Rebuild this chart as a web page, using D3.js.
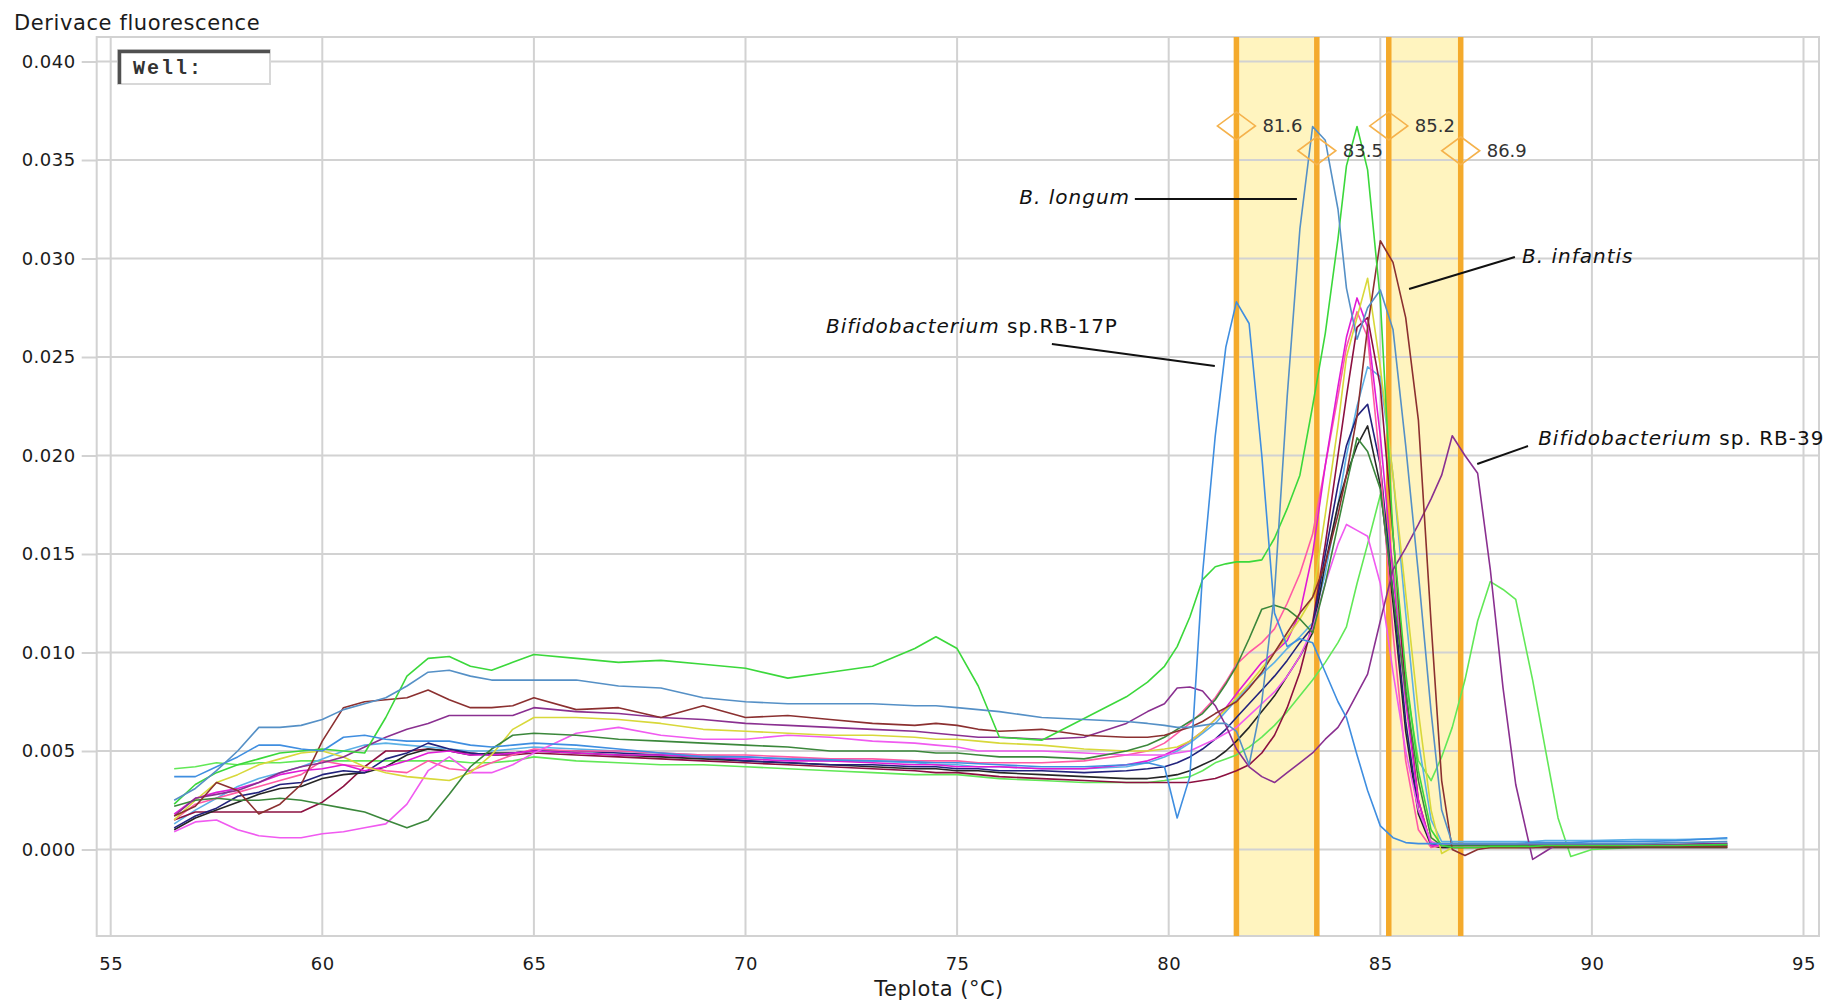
<!DOCTYPE html>
<html lang="cs">
<head>
<meta charset="UTF-8">
<title>Derivace fluorescence</title>
<script src="https://d3js.org/d3.v7.min.js"></script>
<style>
  html, body { margin: 0; padding: 0; background: #fff; }
  svg { display: block; }
  text { font-family: "DejaVu Sans", Verdana, sans-serif; fill: #1b1b1b; }
  .tick text { font-size: 18px; letter-spacing: 0.5px; }
  .tick line { stroke: #d2d2d2; stroke-width: 2; }
  .grid line { stroke: #d2d2d2; stroke-width: 2; }
  .curve { fill: none; stroke-width: 1.6; stroke-linejoin: round; }
  .note { font-size: 20px; letter-spacing: 1px; fill: #111; }
  .peak-label { font-size: 18px; fill: #333; }
</style>
</head>
<body>
<script>
// temperature of each reading (°C)
const temps = [
  56.5, 57, 57.5, 58, 58.5, 59, 59.5, 60, 60.5, 61, 61.5, 62, 62.5, 63, 63.5, 64, 64.5, 65,
  66, 67, 68, 69, 70, 71, 72, 73, 74, 74.5, 75, 75.5, 76, 77, 78, 79,
  79.5, 79.9, 80.2, 80.5, 80.8, 81.1, 81.35, 81.6, 81.9, 82.2, 82.5, 82.8, 83.1, 83.4, 83.7, 84.0,
  84.2, 84.45, 84.7, 85.0, 85.3, 85.6, 85.9, 86.2, 86.45, 86.7, 87.0, 87.3, 87.6, 87.9, 88.2, 88.6,
  88.9, 89.2, 89.5, 90.0,
  91, 92, 93.2
];

// derivative of fluorescence, in thousandths (x 0.001)
const green1 = [
  2.3, 3.3, 3.9, 4.3, 4.6, 4.9, 5.0, 5.1, 5.0, 4.9, 6.7, 8.8, 9.7, 9.8, 9.3, 9.1, 9.5, 9.9,
  9.7, 9.5, 9.6, 9.4, 9.2, 8.7, 9.0, 9.3, 10.2, 10.8, 10.2, 8.3, 5.7, 5.55, 6.65, 7.75,
  8.5, 9.3, 10.3, 11.8, 13.7, 14.35, 14.5, 14.6, 14.6, 14.7, 15.8, 17.3, 19.0, 22.5, 26.2, 31.0,
  34.7, 36.7, 34.5, 27.9, 16.0, 9.0, 4.0, 1.0, 0.2, 0.1, 0.1, 0.1, 0.15, 0.15, 0.15, 0.15,
  0.2, 0.2, 0.2, 0.2,
  0.2, 0.2, 0.25
];
const green2 = [
  4.1, 4.2, 4.4, 4.3, 4.4, 4.4, 4.5, 4.5, 4.5, 4.5, 4.5, 4.5, 4.5, 4.5, 4.4, 4.4, 4.5, 4.7,
  4.5, 4.4, 4.3, 4.3, 4.2, 4.1, 4.0, 3.9, 3.8, 3.8, 3.8, 3.7, 3.6, 3.5, 3.4, 3.4,
  3.4, 3.5, 3.6, 3.7, 4.0, 4.4, 4.6, 4.8, 5.2, 5.7, 6.3, 7.0, 7.8, 8.6, 9.5, 10.5,
  11.3, 13.5, 15.5, 18.0, 14.5, 8.5, 4.5, 3.5, 4.7, 6.2, 8.6, 11.6, 13.6, 13.2, 12.7, 8.6,
  5.1, 1.6, -0.35, 0.0,
  0.1, 0.15, 0.2
];
const darkGreen = [
  2.2, 2.5, 2.6, 2.5, 2.5, 2.6, 2.5, 2.3, 2.1, 1.9, 1.5, 1.1, 1.5, 2.8, 4.2, 5.1, 5.8, 5.9,
  5.8, 5.6, 5.5, 5.4, 5.3, 5.2, 5.0, 5.0, 5.0, 4.9, 4.9, 4.8, 4.7, 4.7, 4.6, 5.0,
  5.3, 5.7, 6.1, 6.5, 6.9, 7.6, 8.4, 9.3, 10.7, 12.2, 12.4, 12.2, 11.7, 11.0, 13.5, 16.5,
  18.5, 20.9, 20.2, 18.3, 13.0, 8.0, 3.5, 0.6, 0.2, 0.2, 0.2, 0.2, 0.2, 0.2, 0.2, 0.2,
  0.2, 0.2, 0.2, 0.2,
  0.2, 0.2, 0.2
];
const bLongum = [
  2.5, 3.1, 4.0, 5.0, 6.2, 6.2, 6.3, 6.6, 7.1, 7.4, 7.7, 8.3, 9.0, 9.1, 8.8, 8.6, 8.6, 8.6,
  8.6, 8.3, 8.2, 7.7, 7.5, 7.4, 7.4, 7.4, 7.3, 7.3, 7.2, 7.1, 7.0, 6.7, 6.6, 6.5,
  6.4, 6.3, 6.2, 6.2, 6.3, 6.4, 6.4, 6.0, 4.3, 7.5, 13.0, 23.0, 31.5, 36.7, 36.0, 32.5,
  28.5, 25.9, 27.5, 28.4, 26.4, 20.5, 14.0, 7.0, 2.0, 0.3, 0.3, 0.3, 0.3, 0.3, 0.3, 0.3,
  0.3, 0.3, 0.3, 0.3,
  0.3, 0.35, 0.4
];
const rb17p = [
  3.7, 3.7, 4.2, 4.7, 5.3, 5.3, 5.1, 5.0, 5.7, 5.8, 5.6, 5.5, 5.5, 5.5, 5.3, 5.2, 5.3, 5.4,
  5.3, 5.1, 4.9, 4.7, 4.7, 4.6, 4.55, 4.5, 4.45, 4.4, 4.4, 4.35, 4.3, 4.2, 4.2, 4.3,
  4.4, 4.2, 1.6, 3.7, 14.0, 21.0, 25.5, 27.8, 26.7, 20.0, 12.0, 10.3, 10.7, 10.5, 9.0, 7.5,
  6.7, 4.8, 3.0, 1.2, 0.6, 0.35, 0.3, 0.3, 0.3, 0.3, 0.3, 0.3, 0.3, 0.3, 0.3, 0.35,
  0.35, 0.35, 0.35, 0.4,
  0.4, 0.45, 0.6
];
const bInfantis = [
  1.7, 2.2, 3.4, 3.0, 1.8, 2.3, 3.3, 5.5, 7.2, 7.5, 7.6, 7.7, 8.1, 7.6, 7.2, 7.2, 7.3, 7.7,
  7.1, 7.2, 6.7, 7.3, 6.7, 6.8, 6.6, 6.4, 6.3, 6.4, 6.3, 6.1, 6.0, 6.1, 5.8, 5.7,
  5.7, 5.8, 6.0, 6.2, 6.5, 6.9, 7.2, 7.5, 8.2, 9.0, 10.0, 11.0, 12.0, 12.8, 14.5, 17.0,
  19.0, 22.0, 26.5, 30.9, 29.8, 27.0, 21.8, 11.5, 3.5, 0.0, -0.3, 0.0, 0.1, 0.1, 0.1, 0.1,
  0.15, 0.15, 0.15, 0.15,
  0.15, 0.15, 0.15
];
const rb39 = [
  1.7, 2.6, 2.8, 3.0, 3.4, 3.9, 4.2, 4.4, 4.7, 5.2, 5.7, 6.1, 6.4, 6.8, 6.8, 6.8, 6.8, 7.2,
  7.0, 6.9, 6.7, 6.6, 6.4, 6.3, 6.2, 6.1, 6.0, 5.9, 5.8, 5.7, 5.7, 5.6, 5.7, 6.4,
  7.0, 7.4, 8.2, 8.25, 8.05, 7.3, 6.3, 5.1, 4.2, 3.7, 3.4, 3.9, 4.4, 4.9, 5.6, 6.2,
  6.9, 7.9, 8.9, 11.6, 14.2, 15.3, 16.5, 17.8, 19.0, 21.0, 20.0, 19.1, 14.2, 8.2, 3.3, -0.5,
  -0.1, 0.3, 0.3, 0.25,
  0.25, 0.25, 0.3
];
const yellow = [
  1.5, 2.5, 3.4, 3.8, 4.3, 4.6, 4.9, 5.0, 4.7, 4.2, 3.9, 3.7, 3.6, 3.5, 3.9, 4.8, 6.1, 6.7,
  6.7, 6.6, 6.4, 6.1, 6.0, 5.9, 5.8, 5.8, 5.7, 5.6, 5.6, 5.5, 5.4, 5.3, 5.1, 5.0,
  5.0, 5.1, 5.2, 5.5, 6.0, 6.6, 7.1, 7.7, 8.4, 9.2, 10.0, 10.8, 11.7, 12.8, 17.0, 21.5,
  25.0, 27.0, 29.0, 24.5, 19.0, 13.0, 7.0, 2.0, -0.2, 0.1, 0.1, 0.1, 0.1, 0.1, 0.1, 0.15,
  0.15, 0.15, 0.15, 0.15,
  0.15, 0.15, 0.15
];
const magentaLow = [
  0.9, 1.4, 1.5, 1.0, 0.7, 0.6, 0.6, 0.8, 0.9, 1.1, 1.3, 2.3, 4.0, 4.7, 3.9, 3.9, 4.3, 4.9,
  5.9, 6.2, 5.8, 5.6, 5.6, 5.8, 5.7, 5.5, 5.4, 5.3, 5.2, 5.0, 5.0, 5.0, 4.9, 4.8,
  4.8, 4.8, 4.9, 5.0, 5.3, 5.6, 5.9, 6.2, 6.8, 7.4, 8.0, 8.8, 9.8, 11.2, 13.5, 15.5,
  16.5, 16.2, 15.9, 13.5, 9.0, 5.0, 2.0, 0.4, 0.2, 0.2, 0.2, 0.2, 0.2, 0.2, 0.2, 0.2,
  0.2, 0.2, 0.2, 0.2,
  0.2, 0.2, 0.2
];
const magenta = [
  1.8, 2.6, 2.9, 3.1, 3.4, 3.8, 4.0, 4.1, 4.3, 4.0, 4.2, 4.5, 4.9, 5.0, 4.8, 4.8, 4.9, 5.0,
  4.9, 4.8, 4.8, 4.7, 4.6, 4.5, 4.5, 4.4, 4.3, 4.3, 4.2, 4.2, 4.2, 4.1, 4.1, 4.3,
  4.5, 4.8, 5.1, 5.5, 6.0, 6.6, 7.2, 7.9, 8.7, 9.5, 10.0, 10.6, 12.0, 15.0, 19.5, 23.5,
  26.0, 28.0, 26.5, 21.0, 14.0, 7.5, 2.5, 0.2, 0.2, 0.2, 0.2, 0.2, 0.2, 0.2, 0.2, 0.2,
  0.2, 0.2, 0.2, 0.2,
  0.2, 0.2, 0.2
];
const pink = [
  1.5, 2.3, 2.6, 2.9, 3.2, 3.5, 3.8, 4.5, 4.3, 4.2, 4.0, 3.9, 4.5, 4.1, 4.0, 4.4, 4.8, 5.1,
  5.0, 5.0, 4.9, 4.8, 4.8, 4.7, 4.6, 4.6, 4.5, 4.5, 4.5, 4.4, 4.4, 4.4, 4.5, 4.8,
  5.0, 5.4, 5.9, 6.4, 7.0, 7.7, 8.5, 9.4, 10.0, 10.5, 11.2, 12.5, 14.0, 16.0, 19.5, 23.0,
  25.5, 27.3, 26.0, 19.5, 11.0, 4.5, 1.0, 0.1, 0.2, 0.2, 0.2, 0.2, 0.2, 0.2, 0.2, 0.2,
  0.2, 0.2, 0.2, 0.2,
  0.2, 0.2, 0.2
];
const navy = [
  1.1, 1.7, 2.1, 2.7, 2.9, 3.3, 3.4, 3.8, 4.0, 3.9, 4.6, 4.9, 5.4, 5.1, 4.9, 4.8, 4.9, 5.0,
  5.0, 4.9, 4.8, 4.7, 4.5, 4.4, 4.3, 4.3, 4.2, 4.2, 4.1, 4.1, 4.0, 4.0, 3.9, 4.0,
  4.1, 4.2, 4.4, 4.7, 5.1, 5.6, 6.1, 6.7, 7.4, 8.1, 8.8, 9.6, 10.5, 11.3, 15.0, 18.5,
  20.5, 22.0, 22.6, 19.5, 13.0, 6.5, 2.0, 0.3, 0.2, 0.2, 0.25, 0.25, 0.25, 0.25, 0.25, 0.25,
  0.25, 0.25, 0.25, 0.25,
  0.25, 0.25, 0.3
];
const black = [
  1.0, 1.6, 2.0, 2.4, 2.8, 3.1, 3.2, 3.6, 3.8, 3.9, 4.2, 4.8, 5.1, 5.0, 4.8, 4.9, 4.9, 5.0,
  4.9, 4.8, 4.7, 4.6, 4.5, 4.4, 4.3, 4.2, 4.1, 4.1, 4.0, 4.0, 3.9, 3.8, 3.7, 3.6,
  3.6, 3.7, 3.8, 4.0, 4.3, 4.6, 5.0, 5.5, 6.2, 7.0, 7.8, 8.8, 9.8, 11.0, 14.5, 17.5,
  19.0, 20.5, 21.5, 18.5, 12.5, 6.0, 1.8, 0.2, 0.1, 0.1, 0.1, 0.1, 0.1, 0.1, 0.1, 0.1,
  0.1, 0.1, 0.1, 0.1,
  0.1, 0.1, 0.1
];
const darkRed = [
  1.5, 1.9, 1.9, 1.9, 1.9, 1.9, 1.9, 2.4, 3.2, 4.2, 5.0, 5.0, 5.1, 5.0, 4.9, 4.8, 4.8, 4.9,
  4.8, 4.7, 4.6, 4.5, 4.4, 4.3, 4.2, 4.1, 4.0, 3.9, 3.9, 3.8, 3.7, 3.6, 3.5, 3.4,
  3.4, 3.4, 3.4, 3.4, 3.5, 3.6, 3.8, 4.0, 4.3, 4.9, 5.8, 7.2, 9.0, 11.5, 15.5, 20.0,
  23.0, 26.5, 27.0, 23.5, 16.0, 8.0, 2.5, 0.2, 0.1, 0.1, 0.1, 0.1, 0.1, 0.1, 0.1, 0.1,
  0.1, 0.1, 0.1, 0.1,
  0.1, 0.1, 0.1
];
const lightBlue = [
  1.3, 2.0, 2.6, 3.2, 3.6, 3.9, 4.2, 4.6, 5.0, 5.3, 5.4, 5.3, 5.2, 5.1, 5.0, 5.0, 5.1, 5.2,
  5.1, 5.0, 4.9, 4.8, 4.7, 4.6, 4.5, 4.5, 4.4, 4.3, 4.3, 4.2, 4.2, 4.1, 4.1, 4.2,
  4.4, 4.7, 5.0, 5.4, 5.9, 6.4, 7.0, 7.6, 8.3, 8.9, 9.5, 10.2, 10.8, 11.5, 14.0, 17.5,
  20.0, 22.5, 24.5, 24.0, 19.0, 12.0, 5.5, 1.5, 0.4, 0.4, 0.4, 0.4, 0.4, 0.4, 0.4, 0.4,
  0.45, 0.45, 0.45, 0.45,
  0.5, 0.5, 0.55
];

// melt-peak markers (°C) and highlighted ranges
const meltTemps = [81.6, 83.5, 85.2, 86.9];
const meltLabelY = [0.03673, 0.03547, 0.03673, 0.03547];
const bands = [[81.6, 83.5], [85.2, 86.9]];

const xTicks = [55, 60, 65, 70, 75, 80, 85, 90, 95];
const yTicks = [0, 0.005, 0.010, 0.015, 0.020, 0.025, 0.030, 0.035, 0.040];

const series = [
  { name: "green2", color: "#62e857", values: green2 },
  { name: "lightBlue", color: "#5cb0e6", values: lightBlue },
  { name: "darkRed", color: "#8c1040", values: darkRed, width: 2.4 },
  { name: "black", color: "#262626", values: black },
  { name: "navy", color: "#22227c", values: navy },
  { name: "pink", color: "#ff5aa5", values: pink },
  { name: "magenta", color: "#e01ad6", values: magenta, width: 2.2 },
  { name: "magentaLow", color: "#f05af0", values: magentaLow },
  { name: "yellow", color: "#d8d83a", values: yellow },
  { name: "darkGreen", color: "#3b873b", values: darkGreen },
  { name: "rb39", color: "#8a3090", values: rb39 },
  { name: "bInfantis", color: "#8b3030", values: bInfantis },
  { name: "green1", color: "#3bd83b", values: green1 },
  { name: "rb17p", color: "#3f8ee0", values: rb17p },
  { name: "bLongum", color: "#5590c6", values: bLongum }
];

const notes = [
  { parts: [["B. longum", true]], at: [76.47, 0.03277],
    line: [[79.2, 0.03302], [83.03, 0.03302]] },
  { parts: [["Bifidobacterium", true], [" sp.RB-17P", false]], at: [71.9, 0.02622],
    line: [[77.24, 0.02566], [81.09, 0.02454]] },
  { parts: [["B. infantis", true]], at: [88.35, 0.02975],
    line: [[85.68, 0.02845], [88.18, 0.03008]] },
  { parts: [["Bifidobacterium", true], [" sp. RB-39", false]], at: [88.73, 0.02053],
    line: [[87.29, 0.01957], [88.49, 0.02048]] }
];

const W = 1827, H = 1004;
const frame = { left: 96.7, top: 37, right: 1819, bottom: 936 };

const svg = d3.select("body").append("svg")
  .attr("width", W).attr("height", H);

const x = d3.scaleLinear().domain([55, 95]).range([110.7, 1803.5]);
const y = d3.scaleLinear().domain([0, 0.04]).range([849.5, 61.5]);

// yellow ranges
svg.append("g").selectAll("rect").data(bands).join("rect")
  .attr("x", d => x(d[0])).attr("width", d => x(d[1]) - x(d[0]))
  .attr("y", frame.top).attr("height", frame.bottom - frame.top)
  .attr("fill", "#fff4bf");

// grid
const grid = svg.append("g").attr("class", "grid");
grid.selectAll("line.v").data(xTicks).join("line").attr("class", "v")
  .attr("x1", d => x(d)).attr("x2", d => x(d))
  .attr("y1", frame.top).attr("y2", frame.bottom);
grid.selectAll("line.h").data(yTicks).join("line").attr("class", "h")
  .attr("x1", frame.left).attr("x2", frame.right)
  .attr("y1", d => y(d)).attr("y2", d => y(d));

svg.append("rect")
  .attr("x", frame.left).attr("y", frame.top)
  .attr("width", frame.right - frame.left).attr("height", frame.bottom - frame.top)
  .attr("fill", "none").attr("stroke", "#d2d2d2").attr("stroke-width", 2);

// axes
svg.append("g")
  .attr("transform", `translate(${frame.left},0)`)
  .call(d3.axisLeft(y).tickValues(yTicks).tickFormat(d3.format(".3f")).tickSize(15).tickPadding(6))
  .call(g => g.select(".domain").remove());

svg.append("g")
  .attr("transform", `translate(0,${frame.bottom})`)
  .call(d3.axisBottom(x).tickValues(xTicks).tickSize(0).tickPadding(21))
  .call(g => g.select(".domain").remove());

// melt temperature lines
svg.append("g").selectAll("line").data(meltTemps).join("line")
  .attr("x1", d => x(d)).attr("x2", d => x(d))
  .attr("y1", frame.top).attr("y2", frame.bottom)
  .attr("stroke", "#f4aa2c").attr("stroke-width", 5.5);

// curves
const line = d3.line()
  .x((d, i) => x(temps[i]))
  .y(d => y(d / 1000));

svg.append("g").selectAll("path").data(series).join("path")
  .attr("class", "curve")
  .attr("stroke", d => d.color)
  .attr("stroke-width", d => d.width || 1.6)
  .attr("d", d => line(d.values));

// peak markers
const mk = svg.append("g").selectAll("g").data(meltTemps).join("g")
  .attr("transform", (d, i) => `translate(${x(d)},${y(meltLabelY[i])})`);
mk.append("path")
  .attr("d", "M0,-14L19,0L0,14L-19,0Z")
  .attr("fill", "none").attr("stroke", "#f5b24c").attr("stroke-width", 1.6);
mk.append("text").attr("class", "peak-label")
  .attr("x", 26).attr("dy", "0.36em")
  .text(d => d.toFixed(1));

// annotations
const nt = svg.append("g").selectAll("g").data(notes).join("g");
nt.append("line")
  .attr("x1", d => x(d.line[0][0])).attr("y1", d => y(d.line[0][1]))
  .attr("x2", d => x(d.line[1][0])).attr("y2", d => y(d.line[1][1]))
  .attr("stroke", "#111").attr("stroke-width", 2);
nt.append("text").attr("class", "note")
  .attr("x", d => x(d.at[0])).attr("y", d => y(d.at[1]))
  .selectAll("tspan").data(d => d.parts).join("tspan")
  .attr("font-style", p => p[1] ? "italic" : "normal")
  .text(p => p[0]);

// "Well:" box
const well = svg.append("g");
well.append("rect").attr("x", 118).attr("y", 50).attr("width", 152).attr("height", 34)
  .attr("fill", "#fff").attr("stroke", "#d8d8d8").attr("stroke-width", 2);
well.append("path").attr("d", "M119.5,84V51.5H270")
  .attr("fill", "none").attr("stroke", "#505050").attr("stroke-width", 3.5);
well.append("text").attr("x", 133).attr("y", 74)
  .style("font-family", "'Liberation Mono', 'DejaVu Sans Mono', monospace")
  .style("font-size", "20px").style("font-weight", "bold").style("letter-spacing", "2px")
  .style("fill", "#333")
  .text("Well:");

// titles
svg.append("text").attr("x", 14).attr("y", 30)
  .style("font-size", "21px").style("letter-spacing", "0.6px")
  .text("Derivace fluorescence");

svg.append("text").attr("x", 939).attr("y", 996).attr("text-anchor", "middle")
  .style("font-size", "21px").style("letter-spacing", "0.5px")
  .text("Teplota (°C)");
</script>
</body>
</html>
